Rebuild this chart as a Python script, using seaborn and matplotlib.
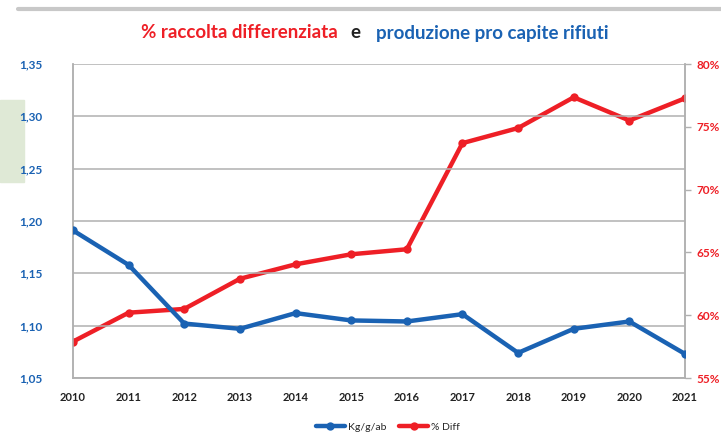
import matplotlib
matplotlib.use("Agg")
import matplotlib.pyplot as plt
import matplotlib.patches as mpatches
import matplotlib.lines as mlines
import seaborn as sns
import pandas as pd
from matplotlib.ticker import FuncFormatter, FixedLocator

years = [2010, 2011, 2012, 2013, 2014, 2015, 2016, 2017, 2018, 2019, 2020, 2021]
kg_g_ab = [1.191, 1.158, 1.102, 1.097, 1.112, 1.105, 1.104, 1.111, 1.074, 1.097, 1.104, 1.073]
perc_diff = [57.9, 60.2, 60.5, 62.9, 64.05, 64.85, 65.25, 73.7, 74.9, 77.35, 75.5, 77.27]
left_ticks = [1.05, 1.10, 1.15, 1.20, 1.25, 1.30, 1.35]
right_ticks = [55, 60, 65, 70, 75, 80]

BLUE = "#1a62b3"
RED = "#ee1f26"
GRID = "#b0b0b0"

sns.set_theme(style="white")
plt.rcParams['font.family'] = ['Lato', 'DejaVu Sans']

df = pd.DataFrame({"year": years, "kg": kg_g_ab, "diff": perc_diff})

fig = plt.figure(figsize=(7.21, 4.44), dpi=100)
fig.patch.set_facecolor("white")
# decorative background elements
fig.add_artist(mpatches.Rectangle((0, 1 - 182 / 444), 24 / 721, 82 / 444,
                                  transform=fig.transFigure, color="#dfe9d6", zorder=0))
fig.add_artist(mlines.Line2D([18 / 721, 1], [1 - 9 / 444, 1 - 9 / 444],
                             transform=fig.transFigure, color="#c8c8c8", lw=3, zorder=0))

ax = fig.add_axes([73 / 721, 1 - 378 / 444, (685 - 73) / 721, (378 - 64) / 444])
ax2 = ax.twinx()

sns.lineplot(data=df, x="year", y="kg", ax=ax, color=BLUE, lw=3.2, marker="o",
             markersize=6, markeredgewidth=0, label="Kg/g/ab", legend=False, zorder=3)
sns.lineplot(data=df, x="year", y="diff", ax=ax2, color=RED, lw=3.2, marker="o",
             markersize=6, markeredgewidth=0, label="% Diff", legend=False, zorder=3)

ax.set_xlim(2010, 2021)
ax.set_ylim(1.05, 1.35)
ax2.set_ylim(55, 80)
ax.yaxis.set_major_locator(FixedLocator(left_ticks))
ax2.yaxis.set_major_locator(FixedLocator(right_ticks))
ax.set_xticks(years)
ax.set_xticklabels([str(y) for y in years], fontsize=8, fontweight="bold", color="#222222")
ax.yaxis.set_major_formatter(FuncFormatter(lambda v, p: f"{v:.2f}".replace(".", ",")))
ax2.yaxis.set_major_formatter(FuncFormatter(lambda v, p: f"{int(round(v))}%"))
for lab in ax.get_yticklabels():
    lab.set_fontsize(8.5); lab.set_fontweight("bold"); lab.set_color(BLUE)
for lab in ax2.get_yticklabels():
    lab.set_fontsize(8.5); lab.set_fontweight("bold"); lab.set_color(RED)

ax.set_xlabel(""); ax.set_ylabel(""); ax2.set_ylabel("")
ax.grid(axis="y", color=GRID, lw=1.1)
ax.grid(axis="x", visible=False)
ax2.grid(False)
ax.tick_params(axis="y", length=0, pad=22)
ax.tick_params(axis="x", length=0, pad=10)
ax2.tick_params(axis="y", length=4, width=1, color=GRID, pad=4, direction="out")
for a in (ax, ax2):
    for s in a.spines.values():
        s.set_color(GRID); s.set_linewidth(1.1)
    a.spines["top"].set_visible(False)
ax.set_zorder(ax2.get_zorder() + 1)
ax.patch.set_visible(False)

# title with mixed colours
fig.text(338 / 721, 1 - 33 / 444, "% raccolta differenziata", color=RED, fontsize=13.5,
         fontweight="bold", ha="right", va="center")
fig.text(355 / 721, 1 - 33 / 444, "e", color="#222222", fontsize=13.5,
         fontweight="bold", ha="center", va="center")
fig.text(376 / 721, 1 - 33 / 444, "produzione pro capite rifiuti", color=BLUE, fontsize=13.5,
         fontweight="bold", ha="left", va="center")

h1, l1 = ax.get_legend_handles_labels()
h2, l2 = ax2.get_legend_handles_labels()
fig.legend(h1 + h2, l1 + l2, loc="center", bbox_to_anchor=(388 / 721, 1 - 427 / 444),
           ncol=2, frameon=False, fontsize=7.5, handlelength=2.8, columnspacing=1.2,
           handletextpad=0.3)

fig.savefig("out.png", dpi=100)
